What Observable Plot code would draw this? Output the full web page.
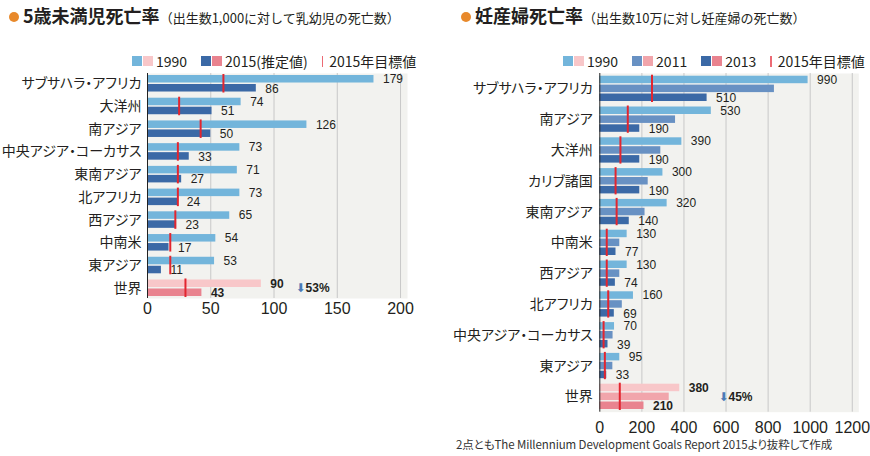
<!DOCTYPE html>
<html><head><meta charset="utf-8">
<script src="https://cdn.jsdelivr.net/npm/d3@7"></script>
<script src="https://cdn.jsdelivr.net/npm/@observablehq/plot@0.6"></script>
<style>
body{margin:0;background:#fff;}
#root{position:relative;width:870px;height:456px;overflow:hidden;font-family:"Noto Sans CJK JP","Noto Sans",sans-serif;color:#231f20;}
.title{position:absolute;top:2px;white-space:nowrap;display:flex;align-items:baseline;}
.title .dot{display:inline-block;width:10px;height:10px;border-radius:50%;background:#e8892b;margin-right:4px;position:relative;top:-1px;}
.title .main{font-size:18px;font-weight:bold;font-feature-settings:"palt";}
.title .sub{font-size:13px;}
.legend{position:absolute;top:51px;display:flex;align-items:center;font-size:14px;white-space:nowrap;font-feature-settings:"palt";}
.legend .sw{display:inline-block;width:10px;height:10px;margin-right:1px;}
.legend .item{display:flex;align-items:center;margin-right:14px;}
.legend .lab{margin-left:2px;}
.legend .tk{display:inline-block;width:1.5px;height:11px;background:#ec6a74;margin-right:6px;}
.chart{position:absolute;top:0;}
.chart svg{overflow:visible;}
.chart [aria-label^="y-axis"] text{font-family:"Noto Sans CJK JP",sans-serif;font-size:14px;font-feature-settings:"palt";fill:#231f20;}
.chart [aria-label^="x-axis"] text{font-family:"Liberation Sans",Arial,sans-serif;font-size:16px;fill:#231f20;}
.caption{position:absolute;left:456px;top:436px;font-size:11.5px;color:#333;white-space:nowrap;letter-spacing:-0.1px;font-feature-settings:"palt";}
</style>
</head><body>
<div id="root">
  <div class="title" style="left:9px"><span class="dot"></span><span class="main">5歳未満児死亡率</span><span class="sub">（出生数1,000に対して乳幼児の死亡数）</span></div>
  <div class="title" style="left:461px"><span class="dot"></span><span class="main">妊産婦死亡率</span><span class="sub">（出生数10万に対し妊産婦の死亡数）</span></div>
  <div class="legend" id="legL" style="left:132px"></div>
  <div class="legend" id="legR" style="left:563px"></div>
  <div class="chart" id="chartL" style="left:0px"></div>
  <div class="chart" id="chartR" style="left:435px"></div>
  <div class="caption">2点ともThe Millennium Development Goals Report 2015より抜粋して作成</div>
</div>
<script>
// ---- Under-5 mortality (per 1,000 births) ----
const regionsU5 = ["サブサハラ・アフリカ","大洋州","南アジア","中央アジア・コーカサス","東南アジア","北アフリカ","西アジア","中南米","東アジア","世界"];
const u5_1990   = [179, 74, 126, 73, 71, 73, 65, 54, 53, 90];
const u5_2015   = [86, 51, 50, 33, 27, 24, 23, 17, 11, 43];
const u5_target = [60, 25, 42, 24, 24, 24, 22, 18, 18, 30];
const u5Ticks   = [0, 50, 100, 150, 200];
const u5ChangeLabel = ["53%"];
const u5ChangeX     = [117];

// ---- Maternal mortality (per 100,000 births) ----
const regionsMM = ["サブサハラ・アフリカ","南アジア","大洋州","カリブ諸国","東南アジア","中南米","西アジア","北アフリカ","中央アジア・コーカサス","東アジア","世界"];
const mm_1990   = [990, 530, 390, 300, 320, 130, 130, 160, 70, 95, 380];
const mm_2011   = [830, 360, 290, 230, 215, 95, 95, 107, 63, 62, 330];
const mm_2013   = [510, 190, 190, 190, 140, 77, 74, 69, 39, 33, 210];
const mm_target = [248, 133, 98, 75, 80, 33, 33, 40, 18, 24, 95];
const mmTicks   = [0, 200, 400, 600, 800, 1000, 1200];
const mmChangeLabel = ["45%"];
const mmChangeX     = [564];

const WORLD = "世界";
const C = {
  blue1:"#73b5db", blue2:"#6891c3", blue3:"#3b69a6",
  pink1:"#f8c7c9", pink2:"#f1a5ab", pink3:"#e9838f",
  red:"#e2252f", arrow:"#4a7bb7", bg:"#f2f2ef", grid:"#c8c8c8"
};
const numFont = "Liberation Sans, Arial, sans-serif";

// legends
function legend(el, items){
  const root = document.getElementById(el);
  items.forEach(it => {
    const d = document.createElement("div"); d.className = "item";
    if (it.tick) { d.innerHTML = `<span class="tk"></span><span>${it.label}</span>`; }
    else { d.innerHTML = `<span class="sw" style="background:${it.c1}"></span><span class="sw" style="background:${it.c2}"></span><span class="lab">${it.label}</span>`; }
    root.appendChild(d);
  });
}
legend("legL", [
  {c1:C.blue1, c2:C.pink1, label:"1990"},
  {c1:C.blue3, c2:C.pink3, label:"2015(推定値)"},
  {tick:true, label:"2015年目標値"}
]);
legend("legR", [
  {c1:C.blue1, c2:C.pink1, label:"1990"},
  {c1:C.blue2, c2:C.pink2, label:"2011"},
  {c1:C.blue3, c2:C.pink3, label:"2013"},
  {tick:true, label:"2015年目標値"}
]);

// ---- left chart ----
const u5Rows = regionsU5.map((r,i)=>({region:r, v1990:u5_1990[i], v2015:u5_2015[i], target:u5_target[i], world:r===WORLD}));
const u5World = u5Rows.filter(d=>d.world).map((d,i)=>({region:d.region, x:u5ChangeX[i], label:u5ChangeLabel[i]}));

const left = Plot.plot({
  width:420, height:330,
  marginLeft:147, marginRight:13, marginTop:73, marginBottom:32,
  x:{domain:[0,205.5], ticks:u5Ticks, tickSize:0, tickPadding:4, label:null, tickFormat:d=>String(d)},
  y:{domain:regionsU5, paddingInner:0.273, paddingOuter:0.088, round:false, tickSize:0, tickPadding:6, label:null},
  color:{type:"identity"},
  marks:[
    Plot.frame({fill:C.bg, stroke:null}),
    Plot.ruleX(u5Ticks.filter(t=>t>0), {stroke:C.grid, strokeWidth:1}),
    Plot.barX(u5Rows, {y:"region", x:"v1990", fill:d=>d.world?C.pink1:C.blue1, insetBottom:9}),
    Plot.barX(u5Rows, {y:"region", x:"v2015", fill:d=>d.world?C.pink3:C.blue3, insetTop:9}),
    Plot.tickX(u5Rows, {y:"region", x:"target", stroke:C.red, strokeWidth:2, insetTop:-1, insetBottom:-1}),
    Plot.ruleX([0], {stroke:"#222", strokeWidth:1}),
    Plot.text(u5Rows.filter(d=>!d.world), {y:"region", x:"v1990", text:d=>String(d.v1990), dx:9, dy:-4.5, textAnchor:"start", fontSize:12, fontFamily:numFont, fill:"#231f20"}),
    Plot.text(u5Rows.filter(d=>!d.world), {y:"region", x:"v2015", text:d=>String(d.v2015), dx:9, dy:5, textAnchor:"start", fontSize:12, fontFamily:numFont, fill:"#231f20"}),
    Plot.text(u5Rows.filter(d=>d.world), {y:"region", x:"v1990", text:d=>String(d.v1990), dx:9, dy:-4.5, textAnchor:"start", fontSize:12, fontWeight:"bold", fontFamily:numFont, fill:"#231f20"}),
    Plot.text(u5Rows.filter(d=>d.world), {y:"region", x:"v2015", text:d=>String(d.v2015), dx:9, dy:5, textAnchor:"start", fontSize:12, fontWeight:"bold", fontFamily:numFont, fill:"#231f20"}),
    Plot.text(u5World, {y:"region", x:"x", text:()=>"⬇", textAnchor:"start", fontSize:12, fill:C.arrow, fontFamily:"DejaVu Sans"}),
    Plot.text(u5World, {y:"region", x:"x", text:"label", dx:10, textAnchor:"start", fontSize:12, fontWeight:"bold", fontFamily:numFont, fill:"#231f20"})
  ]
});
document.getElementById("chartL").appendChild(left);

// ---- right chart ----
const mmRows = regionsMM.map((r,i)=>({region:r, v1990:mm_1990[i], v2011:mm_2011[i], v2013:mm_2013[i], target:mm_target[i], world:r===WORLD}));
const mmWorld = mmRows.filter(d=>d.world).map((d,i)=>({region:d.region, x:mmChangeX[i], label:mmChangeLabel[i]}));

const right = Plot.plot({
  width:435, height:440,
  marginLeft:164.3, marginRight:11.7, marginTop:73, marginBottom:28.3,
  x:{domain:[0,1231], ticks:mmTicks, tickSize:0, tickPadding:9, label:null, tickFormat:d=>String(d)},
  y:{domain:regionsMM, paddingInner:0.1786, paddingOuter:0.088, round:false, tickSize:0, tickPadding:7, label:null},
  color:{type:"identity"},
  marks:[
    Plot.frame({fill:C.bg, stroke:null}),
    Plot.ruleX(mmTicks.filter(t=>t>0), {stroke:C.grid, strokeWidth:1}),
    Plot.barX(mmRows, {y:"region", x:"v1990", fill:d=>d.world?C.pink1:C.blue1, insetBottom:17.8}),
    Plot.barX(mmRows, {y:"region", x:"v2011", fill:d=>d.world?C.pink2:C.blue2, insetTop:8.9, insetBottom:8.9}),
    Plot.barX(mmRows, {y:"region", x:"v2013", fill:d=>d.world?C.pink3:C.blue3, insetTop:17.8}),
    Plot.tickX(mmRows, {y:"region", x:"target", stroke:C.red, strokeWidth:2, insetTop:-1, insetBottom:-1}),
    Plot.ruleX([0], {stroke:"#222", strokeWidth:1}),
    Plot.text(mmRows.filter(d=>!d.world), {y:"region", x:"v1990", text:d=>String(d.v1990), dx:9, dy:-8.9, textAnchor:"start", fontSize:12, fontFamily:numFont, fill:"#231f20"}),
    Plot.text(mmRows.filter(d=>!d.world), {y:"region", x:"v2013", text:d=>String(d.v2013), dx:9, dy:9.5, textAnchor:"start", fontSize:12, fontFamily:numFont, fill:"#231f20"}),
    Plot.text(mmRows.filter(d=>d.world), {y:"region", x:"v1990", text:d=>String(d.v1990), dx:9, dy:-8.9, textAnchor:"start", fontSize:12, fontWeight:"bold", fontFamily:numFont, fill:"#231f20"}),
    Plot.text(mmRows.filter(d=>d.world), {y:"region", x:"v2013", text:d=>String(d.v2013), dx:9, dy:9.5, textAnchor:"start", fontSize:12, fontWeight:"bold", fontFamily:numFont, fill:"#231f20"}),
    Plot.text(mmWorld, {y:"region", x:"x", text:()=>"⬇", textAnchor:"start", fontSize:12, fill:C.arrow, fontFamily:"DejaVu Sans"}),
    Plot.text(mmWorld, {y:"region", x:"x", text:"label", dx:10, textAnchor:"start", fontSize:12, fontWeight:"bold", fontFamily:numFont, fill:"#231f20"})
  ]
});
document.getElementById("chartR").appendChild(right);
</script>
</body></html>
